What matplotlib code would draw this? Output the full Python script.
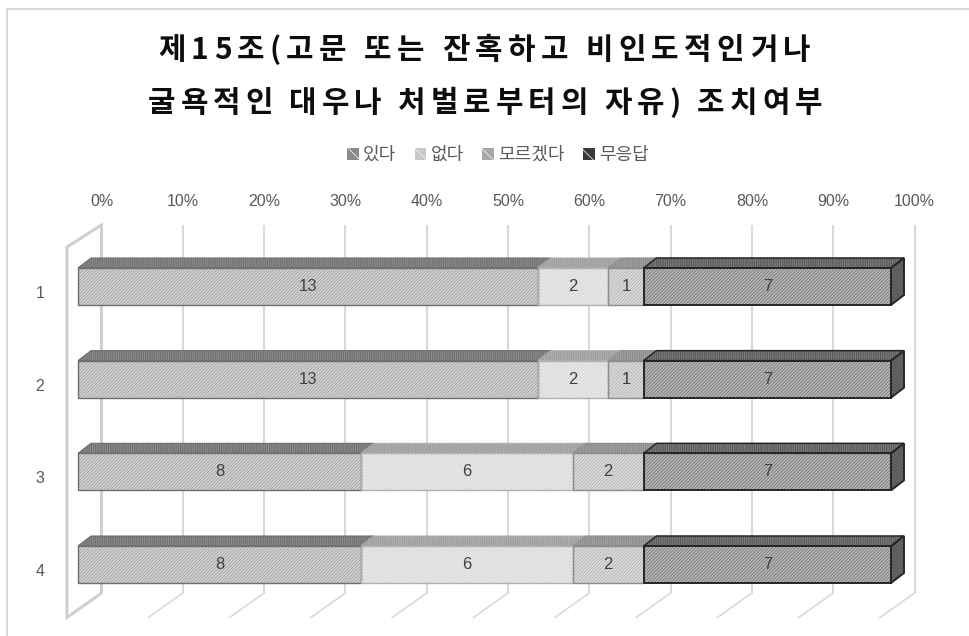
import matplotlib
matplotlib.use("Agg")
import matplotlib.pyplot as plt
from matplotlib.patches import Polygon, Patch, Rectangle
from matplotlib.font_manager import FontProperties
import numpy as np

plt.rcParams['font.family'] = ['Noto Sans CJK KR', 'DejaVu Sans']
plt.rcParams['hatch.linewidth'] = 0.6

# ---- data ----
title_lines = ["제15조(고문 또는 잔혹하고 비인도적인거나",
               "굴욕적인 대우나 처벌로부터의 자유) 조치여부"]
categories = ["1", "2", "3", "4"]
series_names = ["있다", "없다", "모르겠다", "무응답"]
yes = [13, 13, 8, 8]
no = [2, 2, 6, 6]
unknown = [1, 1, 2, 2]
no_answer = [7, 7, 7, 7]
tick_labels = ["0%", "10%", "20%", "30%", "40%", "50%", "60%", "70%", "80%", "90%", "100%"]

series = [yes, no, unknown, no_answer]

# styles per series: front face, front hatch, outline, top face, top hatch
styles = [
    dict(face="#d4d4d4", hatch="#a0a0a0", edge="#6e6e6e", top="#8e8e8e", top_h="#6a6a6a", lw=1.0),
    dict(face="#ededed", hatch="#cdcdcd", edge="#b0b0b0", top="#b2b2b2", top_h="#989898", lw=1.0),
    dict(face="#dddddd", hatch="#b2b2b2", edge="#8c8c8c", top="#a4a4a4", top_h="#868686", lw=1.0),
    dict(face="#b8b8b8", hatch="#787878", edge="#262626", top="#7e7e7e", top_h="#525252", lw=1.4),
]
side_face, side_hatch = "#6c6c6c", "#474747"
FRONT_HATCH = "/" * 10
TOP_HATCH = "|" * 9

W, H = 970, 636
fig = plt.figure(figsize=(W / 100, H / 100), dpi=100)
ax = fig.add_axes([0, 0, 1, 1])
ax.set_axis_off()

# axis scale: x in percent of the bar front plane, y in category rows
PX_PER_PCT = 8.13
PX_PER_ROW = 92.67
X0_PX, Y0_PX = 78, 286.5
ax.set_xlim(-X0_PX / PX_PER_PCT, (W - X0_PX) / PX_PER_PCT)
ax.set_ylim((H - Y0_PX) / PX_PER_ROW, -Y0_PX / PX_PER_ROW)

def dxp(px):
    return px / PX_PER_PCT

def dyp(px):
    return px / PX_PER_ROW

# chart frame
fig.patches.append(Rectangle((7 / W, -0.1), 1.2, 1 - 9 / H + 0.1, transform=fig.transFigure,
                             fill=False, edgecolor="#d9d9d9", lw=1.5, zorder=0))

# back wall, left wall and floor
wall_x = dxp(23.5)
wall_top = dyp(225 - Y0_PX)
wall_bot = dyp(593 - Y0_PX)
depth_x = -dxp(34.5)
depth_y_top = dyp(22)
depth_y_bot = dyp(24.5)
grid_c = "#d9d9d9"
for k in range(len(tick_labels)):
    xb = wall_x + k * 10
    if k > 0:
        ax.plot([xb, xb], [wall_top, wall_bot], color=grid_c, lw=1.5, zorder=1,
                solid_capstyle="butt")
        ax.plot([xb, xb + depth_x], [wall_bot, wall_bot + depth_y_bot], color=grid_c, lw=1.2, zorder=1)
    ax.text(xb, dyp(202 - Y0_PX), tick_labels[k], ha="center", va="center",
            fontsize=11.5, color="#595959", family=["Liberation Sans"])
left_wall = [(wall_x + depth_x, wall_top + depth_y_top), (wall_x, wall_top),
             (wall_x, wall_bot), (wall_x + depth_x, wall_bot + depth_y_bot)]
ax.add_patch(Polygon(left_wall, closed=True, fill=False, edgecolor="#cfcfcf", lw=2.2, zorder=1,
                     joinstyle="miter"))

# stacked bars with depth
y = np.arange(len(categories))
totals = np.sum(series, axis=0)
bar_h = dyp(37)
bdx, bdy = dxp(13), -dyp(10)
left = np.zeros(len(categories))
for s, (vals, st) in enumerate(zip(series, styles)):
    pct = np.array(vals) / totals * 100
    ax.barh(y, pct, left=left, height=bar_h, color=st["face"], edgecolor=st["hatch"],
            hatch=FRONT_HATCH, lw=0, zorder=3)
    ax.barh(y, pct, left=left, height=bar_h, fill=False, edgecolor=st["edge"],
            lw=st["lw"], zorder=5)
    for i in range(len(categories)):
        x0, x1 = left[i], left[i] + pct[i]
        yt = y[i] - bar_h / 2
        top = [(x0, yt), (x1, yt), (x1 + bdx, yt + bdy), (x0 + bdx, yt + bdy)]
        ax.add_patch(Polygon(top, closed=True, facecolor=st["top"], edgecolor=st["top_h"],
                             hatch=TOP_HATCH, lw=0, zorder=2))
        ax.add_patch(Polygon(top, closed=True, fill=False, edgecolor=st["edge"],
                             lw=st["lw"] * 0.8, zorder=4))
        if s == len(series) - 1:
            yb = y[i] + bar_h / 2
            side = [(x1, yt), (x1 + bdx, yt + bdy), (x1 + bdx, yb + bdy), (x1, yb)]
            ax.add_patch(Polygon(side, closed=True, facecolor=side_face, edgecolor=side_hatch,
                                 hatch=FRONT_HATCH, lw=0, zorder=2))
            ax.add_patch(Polygon(side, closed=True, fill=False, edgecolor=st["edge"],
                                 lw=st["lw"], zorder=4))
        ax.text((x0 + x1) / 2, y[i], str(vals[i]), ha="center", va="center",
                fontsize=12, color="#404040", family=["Liberation Sans"], zorder=6)
    left = left + pct

# category labels
for i, c in enumerate(categories):
    ax.text(-dxp(38), y[i] + dyp(7), c, ha="center", va="center", fontsize=11.5,
            color="#595959", family=["Liberation Sans"])

# title with letter spacing
renderer = fig.canvas.get_renderer()
title_fp = FontProperties(family="Noto Sans CJK KR", weight="bold", size=21.5)

def spaced_title(text, xc_px, yc_px, width_px):
    widths = [renderer.get_text_width_height_descent(ch, title_fp, ismath=False)[0]
              for ch in text]
    track = (width_px - sum(widths)) / (len(text) - 1)
    x = xc_px - width_px / 2
    for ch, w in zip(text, widths):
        fig.text(x / W, 1 - yc_px / H, ch, fontproperties=title_fp, ha="left",
                 va="center", color="#0d0d0d")
        x += w + track

spaced_title(title_lines[0], 484, 50, 652)
spaced_title(title_lines[1], 485, 103, 674)

# legend
handles = [Patch(facecolor=c, edgecolor=h, hatch="\\\\", lw=0)
           for c, h in [("#8a8a8a", "#eeeeee"), ("#c8c8c8", "#f4f4f4"),
                        ("#a8a8a8", "#eeeeee"), ("#3a3a3a", "#dddddd")]]
fig.legend(handles, series_names, loc="center", bbox_to_anchor=(498 / W, 1 - 155 / H),
           ncol=4, frameon=False, fontsize=13, labelcolor="#595959",
           handlelength=0.65, handleheight=0.65, handletextpad=0.25, columnspacing=1.0)

fig.savefig("out.png", dpi=100)
